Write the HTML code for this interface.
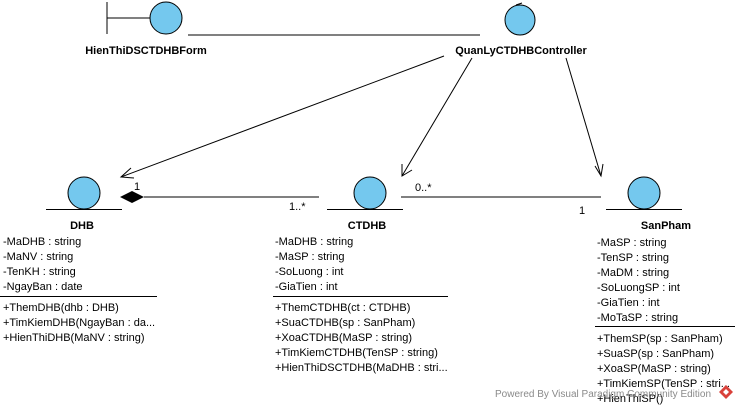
<!DOCTYPE html>
<html><head><meta charset="utf-8"><style>html,body{margin:0;padding:0;background:#fff;}svg{display:block}</style></head>
<body>
<svg width="739" height="409" viewBox="0 0 739 409" xmlns="http://www.w3.org/2000/svg" font-family="Liberation Sans, Arial, sans-serif" font-size="11">
<g stroke="#000" stroke-width="1" fill="none">
<line x1="107" y1="2" x2="107" y2="34"/>
<line x1="107" y1="18" x2="150" y2="18"/>
<line x1="188" y1="35" x2="480" y2="35"/>
<line x1="444" y1="56" x2="121" y2="177"/>
<polyline points="131,168 121,177 134,178"/>
<line x1="472" y1="58" x2="402" y2="176"/>
<polyline points="402,164 402,176 412,170"/>
<line x1="566" y1="58" x2="601" y2="176"/>
<polyline points="595,166 601,176 603,164"/>
<line x1="46" y1="209.5" x2="122" y2="209.5"/>
<line x1="327" y1="209.5" x2="403" y2="209.5"/>
<line x1="606" y1="209.5" x2="682" y2="209.5"/>
<line x1="144" y1="197" x2="319" y2="197"/>
<line x1="401" y1="197" x2="601" y2="197"/>
<line x1="0" y1="296.5" x2="157" y2="296.5"/>
<line x1="273" y1="296.5" x2="448" y2="296.5"/>
<line x1="595" y1="326.5" x2="735" y2="326.5"/>
<path d="M516,5 L522,3 M516,5 L521,8"/>
</g>
<polygon points="120,197 132,191 144,197 132,203" fill="#000"/>
<g fill="#74c8ee" stroke="#000" stroke-width="1">
<circle cx="166" cy="18" r="16"/>
<circle cx="520" cy="20" r="15"/>
<circle cx="84" cy="193" r="16"/>
<circle cx="370" cy="193" r="16"/>
<circle cx="644" cy="193" r="16"/>
</g>
<g font-weight="bold" text-anchor="middle">
<text x="146" y="54">HienThiDSCTDHBForm</text>
<text x="521" y="54">QuanLyCTDHBController</text>
<text x="82" y="229">DHB</text>
<text x="367" y="229">CTDHB</text>
<text x="666" y="229">SanPham</text>
</g>
<text x="134" y="190">1</text>
<text x="289" y="210">1..*</text>
<text x="415" y="191">0..*</text>
<text x="579" y="214">1</text>
<g>
<text x="3" y="245">-MaDHB : string</text>
<text x="3" y="260">-MaNV : string</text>
<text x="3" y="275">-TenKH : string</text>
<text x="3" y="290">-NgayBan : date</text>
<text x="3" y="311">+ThemDHB(dhb : DHB)</text>
<text x="3" y="326">+TimKiemDHB(NgayBan : da...</text>
<text x="3" y="341">+HienThiDHB(MaNV : string)</text>
<text x="275" y="245">-MaDHB : string</text>
<text x="275" y="260">-MaSP : string</text>
<text x="275" y="275">-SoLuong : int</text>
<text x="275" y="290">-GiaTien : int</text>
<text x="275" y="311">+ThemCTDHB(ct : CTDHB)</text>
<text x="275" y="326">+SuaCTDHB(sp : SanPham)</text>
<text x="275" y="341">+XoaCTDHB(MaSP : string)</text>
<text x="275" y="356">+TimKiemCTDHB(TenSP : string)</text>
<text x="275" y="371">+HienThiDSCTDHB(MaDHB : stri...</text>
<text x="597" y="246">-MaSP : string</text>
<text x="597" y="261">-TenSP : string</text>
<text x="597" y="276">-MaDM : string</text>
<text x="597" y="291">-SoLuongSP : int</text>
<text x="597" y="306">-GiaTien : int</text>
<text x="597" y="321">-MoTaSP : string</text>
<text x="597" y="342">+ThemSP(sp : SanPham)</text>
<text x="597" y="357">+SuaSP(sp : SanPham)</text>
<text x="597" y="372">+XoaSP(MaSP : string)</text>
<text x="597" y="387">+TimKiemSP(TenSP : stri...</text>
<text x="597" y="402">+HienThiSP()</text>
</g>
<text x="495" y="397" fill="#8a8a8a" font-size="10">Powered By Visual Paradigm Community Edition</text>
<polygon points="726,385 733,392 726,399 719,392" fill="#d9413a"/>
<polygon points="726,389 729,392 726,395 723,392" fill="#fff"/>
</svg>
</body></html>
